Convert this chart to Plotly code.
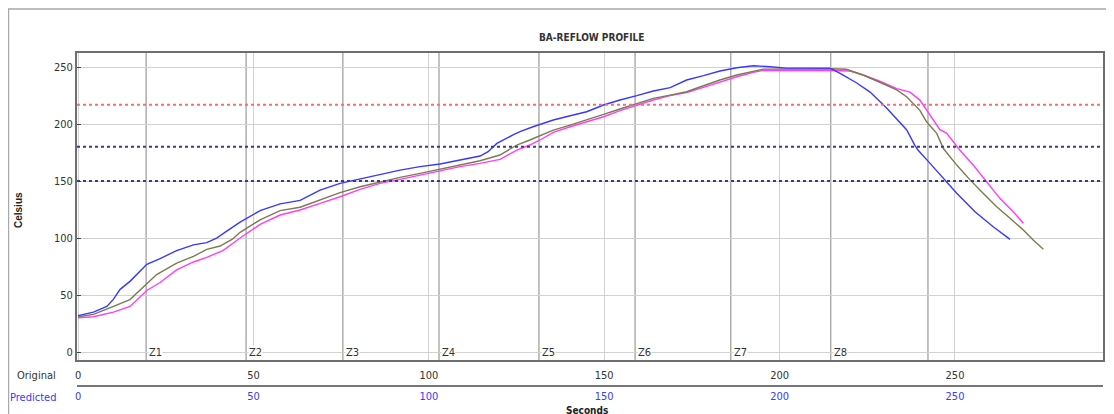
import plotly.graph_objects as go

# ---------------- data ----------------
blue_t = [0, 4.4, 8.2, 10, 12, 14.8, 19.6, 23.4, 28.1, 32.9, 36.7, 39.5, 42.4, 46.2, 51.9, 57.6,
          63.3, 69.0, 74.7, 80.4, 86.1, 91.8, 97.5, 103.2, 108.9, 114.6, 116.9, 119.4, 124.0, 126.0,
          129.7, 135.5, 140.3, 145.0, 149.8, 154.5, 159.3, 164.0, 168.8, 173.5, 178.3, 183.0, 187.8,
          192.5, 197.3, 202.0, 214.4, 217.5, 222.0, 225.8, 230.5, 236.2, 238.6, 239.5, 242.9, 247.1,
          250.5, 255.7, 260.9, 265.7]
blue_v = [32, 35, 40, 46, 55, 62, 77, 82, 89, 94, 96, 100, 106, 114, 124, 130,
          133, 142, 148, 152, 156, 159.6, 162.6, 164.9, 168.4, 171.9, 175.7, 183, 190.4, 193.3,
          197.6, 203.5, 207.3, 210.8, 216.7, 221.1, 224.9, 229, 231.9, 238.6, 242.4, 246.5, 249.4,
          251.1, 250.3, 249, 249, 244, 236, 228, 214, 195, 181, 177, 165.5, 151,
          139.2, 123.1, 109.9, 98.8]

olive_t = [0, 4.4, 10.1, 14.8, 19.6, 22.4, 28.1, 32.9, 36.7, 40.5, 44, 46.2, 51.9, 57.6, 63.3,
           69, 74.7, 80.4, 86.1, 91.8, 97.5, 103.2, 108.9, 114.6, 120.3, 125.1, 128.8, 131.7, 135.5,
           140.3, 145, 149.8, 154.5, 159.3, 164, 168.8, 173.5, 178.3, 183, 187.8, 192.5, 195.4,
           214.4, 219.0, 223.8, 228.6, 230.5, 233.4, 236.2, 240, 241.9, 244.8, 246.7, 250.5, 254.3,
           258.1, 261.9, 265.7, 269.5, 272.3, 275.2]
olive_v = [31, 33, 40, 46, 60, 68, 78, 84, 90, 93, 99, 105, 116, 124, 127,
           133.3, 139.8, 145, 149.4, 153.2, 156.7, 160.2, 164, 167.8, 172.8, 181.6, 186, 189.5, 194.7,
           199.1, 203.5, 208.5, 213.2, 218.1, 222.5, 225.4, 228.3, 233.6, 238.6, 243, 246.5, 248.2,
           248.5, 248, 243, 237, 234, 230, 224, 212, 202, 191.8, 178.5, 164, 151,
           139, 127.5, 117.3, 107, 98.2, 90.1]

mag_t = [0, 4.4, 10.1, 14.8, 19.6, 23.4, 28.1, 32.9, 36.7, 41.3, 46.2, 51.9, 57.6, 63.3, 69,
         74.7, 80.4, 86.1, 91.8, 97.5, 103.2, 108.9, 114.6, 120.3, 125.1, 128.8, 131.7, 135.5, 140.3,
         145, 149.8, 154.5, 159.3, 164, 168.8, 173.5, 178.3, 183, 187.8, 192.5, 195.4, 214.4, 220.1,
         223.8, 228.6, 233.4, 237.2, 240, 241.9, 245.7, 247.6, 250.5, 251.4, 255.2, 259, 262.8,
         266.6, 269.5]
mag_v = [30, 31, 35, 40, 54, 61, 72, 79, 83, 89, 100, 112, 120.2, 124.6, 130.4,
         136.2, 142.7, 148, 151.5, 155.3, 159, 162.6, 165.5, 169, 177.2, 181.6, 186, 192.7, 197.6,
         202, 206.4, 211.7, 216.7, 221.1, 224.9, 227.7, 232.2, 237.1, 241.5, 245.3, 247.1, 247, 246.5,
         243, 237.5, 231, 228, 221, 212, 195, 192, 180, 177, 164, 149.4, 134.8,
         123.1, 112.9]

zone_t = [19.4, 47.9, 75.5, 102.9, 131.4, 158.8, 186.1, 214.6, 242.3]
zone_labels = ["Z1", "Z2", "Z3", "Z4", "Z5", "Z6", "Z7", "Z8"]

limit_red = 217
limit_navy = [180, 150]

x_ticks = [0, 50, 100, 150, 200, 250]
y_ticks = [0, 50, 100, 150, 200, 250]

title_text = "BA-REFLOW PROFILE"

# ---------------- figure ----------------
FONT = "Liberation Sans Narrow, DejaVu Sans Condensed, Arial Narrow, Liberation Sans, Arial, sans-serif"
XR = [-0.3, 292.2]
YR = [-7, 262.3]

fig = go.Figure()
fig.add_trace(go.Scatter(x=mag_t, y=mag_v, mode="lines", line=dict(color="#ff3cff", width=1.4),
                         name="magenta", showlegend=False))
fig.add_trace(go.Scatter(x=olive_t, y=olive_v, mode="lines", line=dict(color="#7b7b4e", width=1.4),
                         name="olive", showlegend=False))
fig.add_trace(go.Scatter(x=blue_t, y=blue_v, mode="lines", line=dict(color="#3838ff", width=1.4),
                         name="blue", showlegend=False))

shapes = []
for zt in zone_t:
    shapes.append(dict(type="line", xref="x", yref="paper", x0=zt, x1=zt, y0=0.078, y1=1,
                       line=dict(color="#858585", width=1), layer="below"))
shapes.append(dict(type="line", xref="paper", yref="y", x0=0, x1=1, y0=limit_red, y1=limit_red,
                   line=dict(color="#ff6a6a", width=2, dash="dot")))
for v in limit_navy:
    shapes.append(dict(type="line", xref="paper", yref="y", x0=0, x1=1, y0=v, y1=v,
                       line=dict(color="#3a3a8c", width=2, dash="dot")))
# outer panel frame
shapes.append(dict(type="rect", xref="paper", yref="paper", x0=-0.0668, x1=1.0058, y0=-0.2, y1=1.132,
                   line=dict(color="#a8a8a8", width=1.5), fillcolor="rgba(0,0,0,0)"))

annotations = []
for zt, lab in zip(zone_t, zone_labels):
    annotations.append(dict(x=zt + 0.5, y=0, xref="x", yref="y", text=lab, showarrow=False,
                            xanchor="left", yanchor="middle", bgcolor="white", borderpad=0,
                            font=dict(family=FONT, size=11, color="#333")))
annotations += [
    dict(x=0.501, y=1.048, xref="paper", yref="paper", text="<b>" + title_text + "</b>", showarrow=False,
         xanchor="center", yanchor="middle", font=dict(family=FONT, size=10, color="#333")),
    dict(x=-0.0575, y=0.5285, xref="paper", yref="paper", text="<b>Celsius</b>", showarrow=False,
         xanchor="center", yanchor="middle", textangle=-90,
         font=dict(family="Liberation Sans, Arial, sans-serif", size=10, color="#222")),
    dict(x=-0.0185, y=0.033, xref="paper", yref="paper", text="Original", showarrow=False,
         xanchor="right", yanchor="middle", font=dict(family=FONT, size=11, color="#333")),
    dict(x=-0.0185, y=-0.036, xref="paper", yref="paper", text="Predicted", showarrow=False,
         xanchor="right", yanchor="middle", font=dict(family=FONT, size=11, color="#3838ff")),
    dict(x=0.497, y=-0.075, xref="paper", yref="paper", text="<b>Seconds</b>", showarrow=False,
         xanchor="center", yanchor="middle", font=dict(family=FONT, size=10, color="#222")),
]

# The page body adds an 8 px offset, so margins are shifted by 8 px to compensate.
fig.update_layout(
    width=1114, height=414,
    margin=dict(l=69, r=19, t=45, b=36),
    paper_bgcolor="white", plot_bgcolor="white",
    font=dict(family=FONT, size=11, color="#333"),
    shapes=shapes, annotations=annotations,
    xaxis=dict(range=XR, tickvals=x_ticks, showgrid=True, gridcolor="#d2d2d2", gridwidth=1,
               zeroline=False, showline=True, linecolor="#6e6e6e", linewidth=2, mirror=True,
               ticks="outside", ticklen=4, tickcolor="rgba(0,0,0,0)", anchor="y",
               tickfont=dict(family=FONT, size=11, color="#333")),
    xaxis2=dict(range=XR, tickvals=x_ticks, overlaying="x", anchor="free", position=0, side="bottom",
                showgrid=False, zeroline=False, showline=True, linecolor="#777", linewidth=2,
                ticks="", tickfont=dict(family=FONT, size=11, color="#3838ff")),
    yaxis=dict(range=YR, tickvals=y_ticks, domain=[0.078, 1], showgrid=True, gridcolor="#d2d2d2",
               gridwidth=1, zeroline=False, showline=True, linecolor="#6e6e6e", linewidth=2,
               mirror=True, ticks="inside", ticklen=4, tickcolor="#444",
               tickfont=dict(family=FONT, size=11, color="#333")),
)
# invisible trace to activate xaxis2
fig.add_trace(go.Scatter(x=[0], y=[0], xaxis="x2", mode="markers", marker=dict(opacity=0),
                         showlegend=False, hoverinfo="skip"))

fig.write_html("out.html")
